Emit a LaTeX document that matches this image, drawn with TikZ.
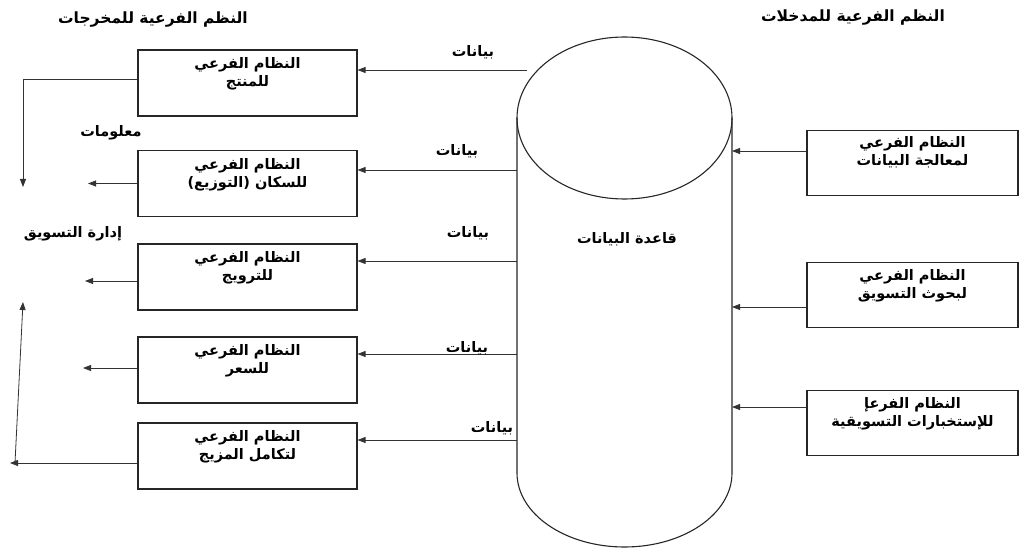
\documentclass[tikz,border=0pt]{standalone}
\usepackage{fontspec}
\usetikzlibrary{arrows.meta,calc}
\TeXXeTstate=1
\newfontfamily\arfont[Script=Arabic]{DejaVu Sans}
\newcommand{\ar}[1]{\beginR #1\endR}
\begin{document}
\begin{tikzpicture}[x=1pt,y=-1pt,
  box/.style={draw=black!85,line width=1.1pt,minimum width=219pt,minimum height=66pt,inner sep=0pt},
  rbox/.style={box,minimum width=211pt,minimum height=65pt},
  boxtext/.style={font=\arfont\bfseries\fontsize{14.5}{18}\selectfont,align=center,anchor=north,inner sep=0pt},
  lbl/.style={font=\arfont\bfseries\fontsize{14.5}{16}\selectfont,inner sep=0pt},
  head/.style={font=\arfont\bfseries\fontsize{15.5}{17}\selectfont,inner sep=0pt},
  arr/.style={draw=black!80,line width=0.8pt,-{Triangle[length=8pt,width=6pt]}}]
\useasboundingbox (0,0) rectangle (1020,548);

% database cylinder
\coordinate (dbL) at (517,0);
\coordinate (dbR) at (732,0);
\draw[black!85,line width=1.1pt] (517,118) -- (517,473) arc[start angle=180,end angle=360,x radius=107.5pt,y radius=74pt] -- (732,118);
\draw[black!85,line width=1.1pt] (624.5,118) ellipse[x radius=107.5pt,y radius=81pt];
\node[lbl] (db) at (627,239) {\ar{قاعدة البيانات}};

% headers
\node[head] (hout) at (153,20) {\ar{النظم الفرعية للمخرجات}};
\node[head] (hin) at (853,18) {\ar{النظم الفرعية للمدخلات}};

% output subsystems
\node[box] (L1) at (247.5,83) {};
\node[box] (L2) at (247.5,183.5) {};
\node[box] (L3) at (247.5,277) {};
\node[box] (L4) at (247.5,370) {};
\node[box] (L5) at (247.5,456) {};
\node[boxtext] at ($(L1.north)+(0,8)$) {\ar{النظام الفرعي}\\\ar{للمنتج}};
\node[boxtext] at ($(L2.north)+(0,8)$) {\ar{النظام الفرعي}\\\ar{للسكان (التوزيع)}};
\node[boxtext] at ($(L3.north)+(0,8)$) {\ar{النظام الفرعي}\\\ar{للترويج}};
\node[boxtext] at ($(L4.north)+(0,8)$) {\ar{النظام الفرعي}\\\ar{للسعر}};
\node[boxtext] at ($(L5.north)+(0,8)$) {\ar{النظام الفرعي}\\\ar{لتكامل المزيج}};

% input subsystems
\node[rbox] (R1) at (912.5,163) {};
\node[rbox] (R2) at (912.5,295) {};
\node[rbox] (R3) at (912.5,423) {};
\node[boxtext] at ($(R1.north)+(0,6)$) {\ar{النظام الفرعي}\\\ar{لمعالجة البيانات}};
\node[boxtext] at ($(R2.north)+(0,7)$) {\ar{النظام الفرعي}\\\ar{لبحوث التسويق}};
\node[boxtext] at ($(R3.north)+(0,7)$) {\ar{النظام الفرعإ}\\\ar{للإستخبارات التسويقية}};

% row levels
\coordinate (y1) at (0,70);
\coordinate (y2) at (0,170);
\coordinate (y3) at (0,261);
\coordinate (y4) at (0,354);
\coordinate (y5) at (0,440);
\coordinate (r1) at (0,151);
\coordinate (r2) at (0,307);
\coordinate (r3) at (0,407);

% data flows from the database
\coordinate (d1) at (527,70);
\draw[arr] (d1) -- (L1.east |- y1);
\draw[arr] (dbL |- y2) -- (L2.east |- y2);
\draw[arr] (dbL |- y3) -- (L3.east |- y3);
\draw[arr] (dbL |- y4) -- (L4.east |- y4);
\draw[arr] (dbL |- y5) -- (L5.east |- y5);
\node[lbl] (t1) at (473,52) {\ar{بيانات}};
\node[lbl] (t2) at (457,151) {\ar{بيانات}};
\node[lbl] (t3) at (468,233) {\ar{بيانات}};
\node[lbl] (t4) at (467,348) {\ar{بيانات}};
\node[lbl] (t5) at (492,428) {\ar{بيانات}};

% data flows into the database
\draw[arr] (R1.west |- r1) -- (dbR |- r1);
\draw[arr] (R2.west |- r2) -- (dbR |- r2);
\draw[arr] (R3.west |- r3) -- (dbR |- r3);

% information to marketing management
\coordinate (o1) at (23,187);
\coordinate (o2) at (88,183.5);
\coordinate (o3) at (85,281);
\coordinate (o4) at (83,368);
\coordinate (o5) at (10,463);
\coordinate (o6) at (15,463);
\coordinate (o7) at (23,302);
\coordinate (e1) at (0,79);
\coordinate (e3) at (0,281);
\coordinate (e5) at (0,463);
\draw[arr] (L1.west |- e1) -| (o1);
\draw[arr] (L2.west) -- (o2);
\draw[arr] (L3.west |- e3) -- (o3);
\draw[arr] (L4.west |- o4) -- (o4);
\draw[arr] (L5.west |- e5) -- (o5);
\draw[arr] (o6) -- (o7);
\node[lbl] (info) at (111,133) {\ar{معلومات}};
\node[lbl] (mgmt) at (73,234) {\ar{إدارة التسويق}};
\end{tikzpicture}
\end{document}
